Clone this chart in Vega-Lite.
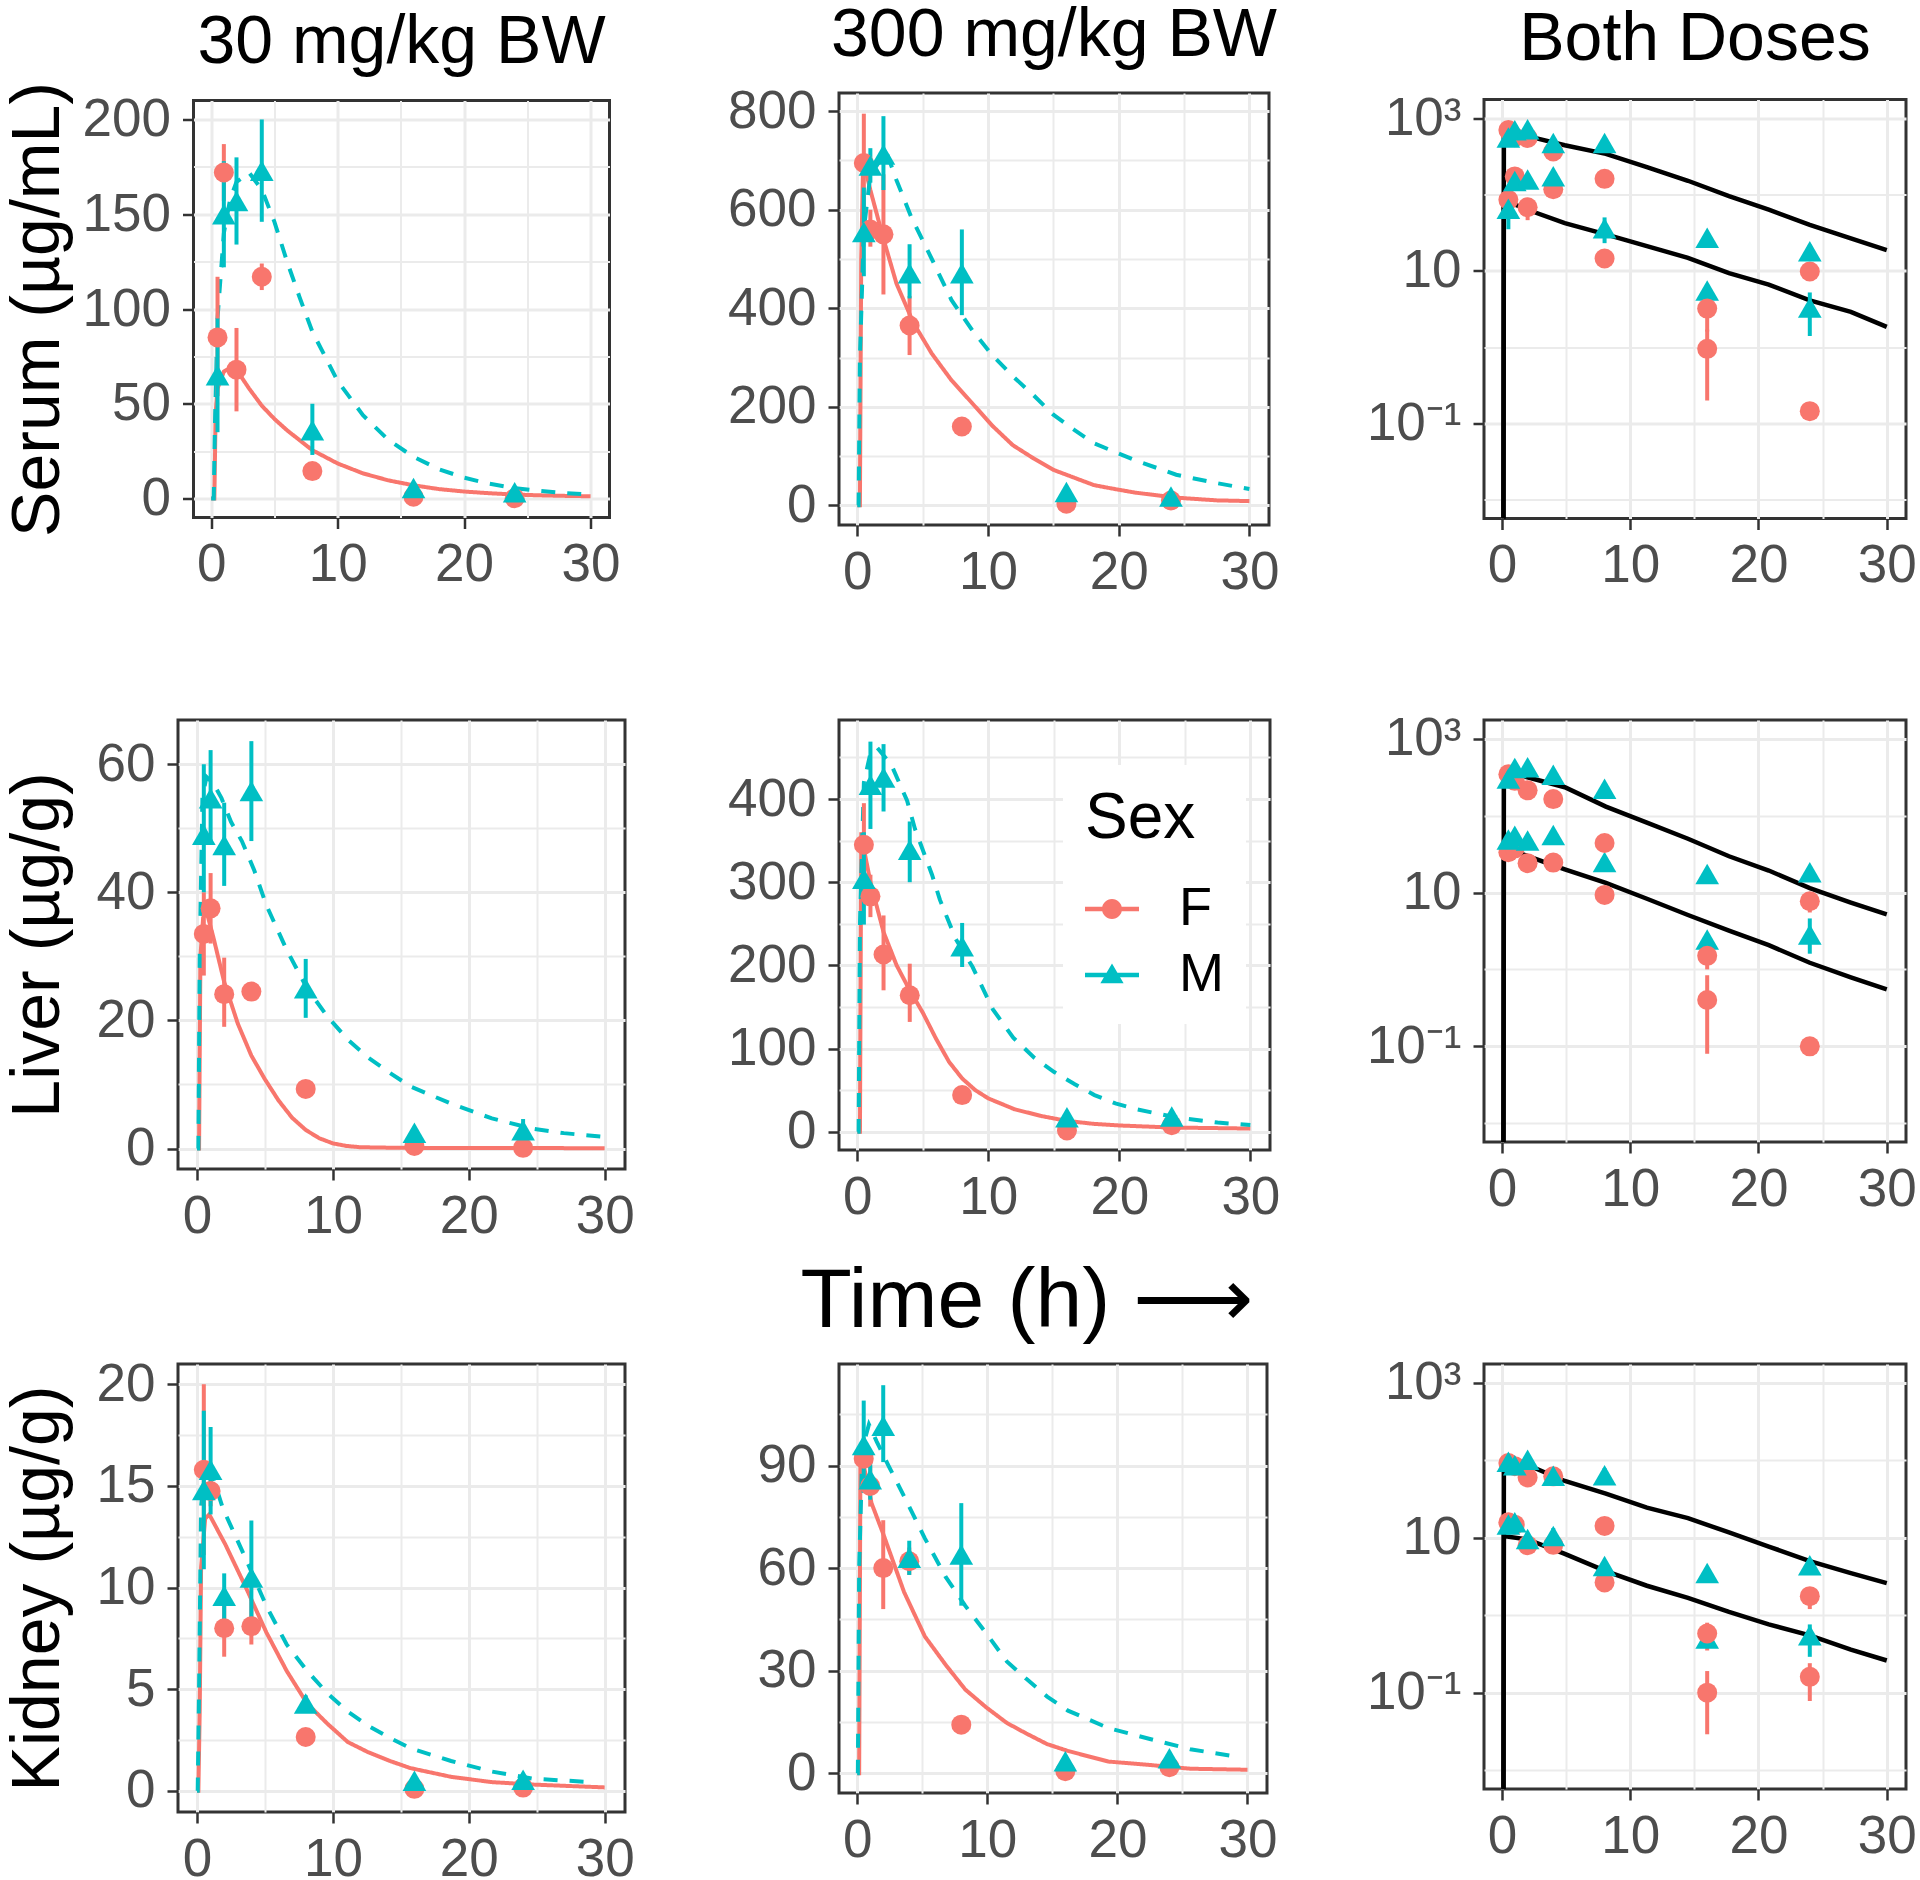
{
"$schema": "https://vega.github.io/schema/vega-lite/v6.json",
"background": "white",
"padding": {"left": 2, "top": 0, "right": 0, "bottom": 0},
"config": {
  "font": "Liberation Sans",
  "view": {"stroke": "#333333", "strokeWidth": 3, "fill": "white"},
  "axis": {"domain": false, "grid": true, "gridColor": "#EBEBEB", "tickColor": "#333333", "tickWidth": 2.5, "tickSize": 11, "labelFont": "Liberation Sans", "labelFontSize": 53, "labelColor": "#4D4D4D", "labelFlush": false, "labelOverlap": false, "titleFont": "Liberation Sans", "titleFontSize": 68, "titleFontWeight": "normal", "titleColor": "black", "titlePadding": 10},
  "axisX": {"labelPadding": 10},
  "axisY": {"labelPadding": 12},
  "title": {"font": "Liberation Sans", "fontSize": 68, "fontWeight": "normal", "color": "black", "anchor": "middle", "frame": "group", "baseline": "alphabetic", "offset": 15}
},
"datasets": {
  "pts": [
    {"organ":"Serum","dose":30,"sex":"F","time":0.5,"conc":85,"lo":54,"hi":117},
    {"organ":"Serum","dose":30,"sex":"F","time":1,"conc":172,"lo":157,"hi":187},
    {"organ":"Serum","dose":30,"sex":"F","time":2,"conc":68,"lo":46,"hi":90},
    {"organ":"Serum","dose":30,"sex":"F","time":4,"conc":117,"lo":110,"hi":124},
    {"organ":"Serum","dose":30,"sex":"F","time":8,"conc":14.5,"lo":13,"hi":16},
    {"organ":"Serum","dose":30,"sex":"F","time":16,"conc":0.95,"lo":0.2,"hi":1.7},
    {"organ":"Serum","dose":30,"sex":"F","time":24,"conc":0.145,"lo":0.145,"hi":0.145},
    {"organ":"Serum","dose":30,"sex":"M","time":0.5,"conc":65,"lo":35,"hi":95},
    {"organ":"Serum","dose":30,"sex":"M","time":1,"conc":150,"lo":122,"hi":178},
    {"organ":"Serum","dose":30,"sex":"M","time":2,"conc":157,"lo":134,"hi":180},
    {"organ":"Serum","dose":30,"sex":"M","time":4,"conc":173,"lo":146,"hi":200},
    {"organ":"Serum","dose":30,"sex":"M","time":8,"conc":36,"lo":23,"hi":50},
    {"organ":"Serum","dose":30,"sex":"M","time":16,"conc":5.5,"lo":4.5,"hi":6.5},
    {"organ":"Serum","dose":30,"sex":"M","time":24,"conc":3.3,"lo":1.4,"hi":5.2},
    {"organ":"Serum","dose":300,"sex":"F","time":0.5,"conc":695,"lo":595,"hi":795},
    {"organ":"Serum","dose":300,"sex":"F","time":1,"conc":560,"lo":525,"hi":600},
    {"organ":"Serum","dose":300,"sex":"F","time":2,"conc":550,"lo":428,"hi":672},
    {"organ":"Serum","dose":300,"sex":"F","time":4,"conc":365,"lo":305,"hi":425},
    {"organ":"Serum","dose":300,"sex":"F","time":8,"conc":160,"lo":152,"hi":168},
    {"organ":"Serum","dose":300,"sex":"F","time":16,"conc":3.2,"lo":1.6,"hi":4.8},
    {"organ":"Serum","dose":300,"sex":"F","time":24,"conc":9.8,"lo":8,"hi":11.6},
    {"organ":"Serum","dose":300,"sex":"M","time":0.5,"conc":555,"lo":465,"hi":645},
    {"organ":"Serum","dose":300,"sex":"M","time":1,"conc":690,"lo":655,"hi":725},
    {"organ":"Serum","dose":300,"sex":"M","time":2,"conc":712,"lo":640,"hi":790},
    {"organ":"Serum","dose":300,"sex":"M","time":4,"conc":471,"lo":420,"hi":530},
    {"organ":"Serum","dose":300,"sex":"M","time":8,"conc":471,"lo":386,"hi":560},
    {"organ":"Serum","dose":300,"sex":"M","time":16,"conc":27,"lo":22,"hi":32},
    {"organ":"Serum","dose":300,"sex":"M","time":24,"conc":18,"lo":14,"hi":22},
    {"organ":"Liver","dose":30,"sex":"F","time":0.5,"conc":33.5,"lo":27,"hi":40},
    {"organ":"Liver","dose":30,"sex":"F","time":1,"conc":37.5,"lo":32,"hi":43},
    {"organ":"Liver","dose":30,"sex":"F","time":2,"conc":24.1,"lo":19,"hi":29.8},
    {"organ":"Liver","dose":30,"sex":"F","time":4,"conc":24.5,"lo":23.5,"hi":25.5},
    {"organ":"Liver","dose":30,"sex":"F","time":8,"conc":9.3,"lo":8,"hi":10.6},
    {"organ":"Liver","dose":30,"sex":"F","time":16,"conc":0.4,"lo":0.08,"hi":0.84},
    {"organ":"Liver","dose":30,"sex":"F","time":24,"conc":0.1,"lo":0.1,"hi":0.1},
    {"organ":"Liver","dose":30,"sex":"M","time":0.5,"conc":49,"lo":40,"hi":60},
    {"organ":"Liver","dose":30,"sex":"M","time":1,"conc":54.7,"lo":47.4,"hi":62.2},
    {"organ":"Liver","dose":30,"sex":"M","time":2,"conc":47.4,"lo":41,"hi":54},
    {"organ":"Liver","dose":30,"sex":"M","time":4,"conc":55.8,"lo":48,"hi":63.6},
    {"organ":"Liver","dose":30,"sex":"M","time":8,"conc":25,"lo":20.4,"hi":29.6},
    {"organ":"Liver","dose":30,"sex":"M","time":16,"conc":2.45,"lo":2.2,"hi":2.7},
    {"organ":"Liver","dose":30,"sex":"M","time":24,"conc":2.85,"lo":1.6,"hi":4.6},
    {"organ":"Liver","dose":300,"sex":"F","time":0.5,"conc":345,"lo":295,"hi":395},
    {"organ":"Liver","dose":300,"sex":"F","time":1,"conc":283,"lo":258,"hi":309},
    {"organ":"Liver","dose":300,"sex":"F","time":2,"conc":213,"lo":170,"hi":260},
    {"organ":"Liver","dose":300,"sex":"F","time":4,"conc":164,"lo":132,"hi":202},
    {"organ":"Liver","dose":300,"sex":"F","time":8,"conc":44,"lo":40,"hi":48},
    {"organ":"Liver","dose":300,"sex":"F","time":16,"conc":1.5,"lo":1,"hi":2.2},
    {"organ":"Liver","dose":300,"sex":"F","time":24,"conc":7.7,"lo":5.5,"hi":9.9},
    {"organ":"Liver","dose":300,"sex":"M","time":0.5,"conc":304,"lo":249,"hi":360},
    {"organ":"Liver","dose":300,"sex":"M","time":1,"conc":417,"lo":364,"hi":469},
    {"organ":"Liver","dose":300,"sex":"M","time":2,"conc":426,"lo":385,"hi":466},
    {"organ":"Liver","dose":300,"sex":"M","time":4,"conc":339,"lo":300,"hi":373},
    {"organ":"Liver","dose":300,"sex":"M","time":8,"conc":223,"lo":198,"hi":251},
    {"organ":"Liver","dose":300,"sex":"M","time":16,"conc":17.4,"lo":15,"hi":20},
    {"organ":"Liver","dose":300,"sex":"M","time":24,"conc":18.3,"lo":15,"hi":21},
    {"organ":"Kidney","dose":30,"sex":"F","time":0.5,"conc":15.8,"lo":11.6,"hi":20},
    {"organ":"Kidney","dose":30,"sex":"F","time":1,"conc":14.75,"lo":14,"hi":15.5},
    {"organ":"Kidney","dose":30,"sex":"F","time":2,"conc":8,"lo":6.6,"hi":9.3},
    {"organ":"Kidney","dose":30,"sex":"F","time":4,"conc":8.1,"lo":7.2,"hi":9.4},
    {"organ":"Kidney","dose":30,"sex":"F","time":8,"conc":2.65,"lo":2.4,"hi":2.9},
    {"organ":"Kidney","dose":30,"sex":"F","time":16,"conc":0.1,"lo":0.029,"hi":0.19},
    {"organ":"Kidney","dose":30,"sex":"F","time":24,"conc":0.16,"lo":0.078,"hi":0.24},
    {"organ":"Kidney","dose":30,"sex":"M","time":0.5,"conc":14.8,"lo":10.9,"hi":18.7},
    {"organ":"Kidney","dose":30,"sex":"M","time":1,"conc":15.8,"lo":13.6,"hi":17.9},
    {"organ":"Kidney","dose":30,"sex":"M","time":2,"conc":9.6,"lo":8.1,"hi":10.7},
    {"organ":"Kidney","dose":30,"sex":"M","time":4,"conc":10.5,"lo":8.1,"hi":13.3},
    {"organ":"Kidney","dose":30,"sex":"M","time":8,"conc":4.3,"lo":3.9,"hi":4.7},
    {"organ":"Kidney","dose":30,"sex":"M","time":16,"conc":0.5,"lo":0.42,"hi":0.58},
    {"organ":"Kidney","dose":30,"sex":"M","time":24,"conc":0.55,"lo":0.29,"hi":0.76},
    {"organ":"Kidney","dose":300,"sex":"F","time":0.5,"conc":92,"lo":88,"hi":96},
    {"organ":"Kidney","dose":300,"sex":"F","time":1,"conc":84,"lo":78,"hi":90},
    {"organ":"Kidney","dose":300,"sex":"F","time":2,"conc":60,"lo":48,"hi":74},
    {"organ":"Kidney","dose":300,"sex":"F","time":4,"conc":62,"lo":58,"hi":66},
    {"organ":"Kidney","dose":300,"sex":"F","time":8,"conc":14.2,"lo":13,"hi":15.4},
    {"organ":"Kidney","dose":300,"sex":"F","time":16,"conc":0.58,"lo":0.35,"hi":0.8},
    {"organ":"Kidney","dose":300,"sex":"F","time":24,"conc":1.76,"lo":1.2,"hi":2.3},
    {"organ":"Kidney","dose":300,"sex":"M","time":0.5,"conc":96,"lo":82,"hi":109},
    {"organ":"Kidney","dose":300,"sex":"M","time":1,"conc":86,"lo":80,"hi":92},
    {"organ":"Kidney","dose":300,"sex":"M","time":2,"conc":101.6,"lo":91,"hi":113.5},
    {"organ":"Kidney","dose":300,"sex":"M","time":4,"conc":63,"lo":58,"hi":68},
    {"organ":"Kidney","dose":300,"sex":"M","time":8,"conc":64,"lo":49,"hi":79},
    {"organ":"Kidney","dose":300,"sex":"M","time":16,"conc":3.5,"lo":3,"hi":4},
    {"organ":"Kidney","dose":300,"sex":"M","time":24,"conc":4.4,"lo":3.5,"hi":5.3}
  ],
  "fit": [
    {"organ":"Serum","dose":30,"sex":"F","time":0,"conc":0},{"organ":"Serum","dose":30,"sex":"F","time":0.25,"conc":0},{"organ":"Serum","dose":30,"sex":"F","time":0.35,"conc":45},{"organ":"Serum","dose":30,"sex":"F","time":0.5,"conc":58},{"organ":"Serum","dose":30,"sex":"F","time":1,"conc":67},{"organ":"Serum","dose":30,"sex":"F","time":1.5,"conc":69},{"organ":"Serum","dose":30,"sex":"F","time":2,"conc":68},{"organ":"Serum","dose":30,"sex":"F","time":3,"conc":58},{"organ":"Serum","dose":30,"sex":"F","time":4,"conc":49},{"organ":"Serum","dose":30,"sex":"F","time":5,"conc":42},{"organ":"Serum","dose":30,"sex":"F","time":6,"conc":36},{"organ":"Serum","dose":30,"sex":"F","time":8,"conc":25.5},{"organ":"Serum","dose":30,"sex":"F","time":10,"conc":18.5},{"organ":"Serum","dose":30,"sex":"F","time":12,"conc":13.3},{"organ":"Serum","dose":30,"sex":"F","time":14,"conc":9.6},{"organ":"Serum","dose":30,"sex":"F","time":16,"conc":7},{"organ":"Serum","dose":30,"sex":"F","time":18,"conc":5},{"organ":"Serum","dose":30,"sex":"F","time":20,"conc":3.7},{"organ":"Serum","dose":30,"sex":"F","time":22,"conc":2.8},{"organ":"Serum","dose":30,"sex":"F","time":24,"conc":2.1},{"organ":"Serum","dose":30,"sex":"F","time":26,"conc":1.7},{"organ":"Serum","dose":30,"sex":"F","time":28,"conc":1.4},{"organ":"Serum","dose":30,"sex":"F","time":30,"conc":1.2},
    {"organ":"Serum","dose":30,"sex":"M","time":0,"conc":0},{"organ":"Serum","dose":30,"sex":"M","time":0.2,"conc":0},{"organ":"Serum","dose":30,"sex":"M","time":0.3,"conc":40},{"organ":"Serum","dose":30,"sex":"M","time":0.5,"conc":95},{"organ":"Serum","dose":30,"sex":"M","time":1,"conc":140},{"organ":"Serum","dose":30,"sex":"M","time":1.5,"conc":158},{"organ":"Serum","dose":30,"sex":"M","time":2,"conc":167},{"organ":"Serum","dose":30,"sex":"M","time":3,"conc":172},{"organ":"Serum","dose":30,"sex":"M","time":4,"conc":163},{"organ":"Serum","dose":30,"sex":"M","time":5,"conc":146},{"organ":"Serum","dose":30,"sex":"M","time":6,"conc":125},{"organ":"Serum","dose":30,"sex":"M","time":7,"conc":106},{"organ":"Serum","dose":30,"sex":"M","time":8,"conc":88},{"organ":"Serum","dose":30,"sex":"M","time":10,"conc":62},{"organ":"Serum","dose":30,"sex":"M","time":12,"conc":44},{"organ":"Serum","dose":30,"sex":"M","time":14,"conc":31},{"organ":"Serum","dose":30,"sex":"M","time":16,"conc":22},{"organ":"Serum","dose":30,"sex":"M","time":18,"conc":15.5},{"organ":"Serum","dose":30,"sex":"M","time":20,"conc":11},{"organ":"Serum","dose":30,"sex":"M","time":22,"conc":7.8},{"organ":"Serum","dose":30,"sex":"M","time":24,"conc":5.5},{"organ":"Serum","dose":30,"sex":"M","time":26,"conc":4},{"organ":"Serum","dose":30,"sex":"M","time":28,"conc":2.9},{"organ":"Serum","dose":30,"sex":"M","time":30,"conc":2.1},
    {"organ":"Serum","dose":300,"sex":"F","time":0,"conc":0},{"organ":"Serum","dose":300,"sex":"F","time":0.2,"conc":0},{"organ":"Serum","dose":300,"sex":"F","time":0.3,"conc":500},{"organ":"Serum","dose":300,"sex":"F","time":0.45,"conc":700},{"organ":"Serum","dose":300,"sex":"F","time":1,"conc":640},{"organ":"Serum","dose":300,"sex":"F","time":2,"conc":541},{"organ":"Serum","dose":300,"sex":"F","time":3,"conc":450},{"organ":"Serum","dose":300,"sex":"F","time":4.3,"conc":370},{"organ":"Serum","dose":300,"sex":"F","time":5.7,"conc":308},{"organ":"Serum","dose":300,"sex":"F","time":7.2,"conc":254},{"organ":"Serum","dose":300,"sex":"F","time":8.8,"conc":207},{"organ":"Serum","dose":300,"sex":"F","time":10.35,"conc":161},{"organ":"Serum","dose":300,"sex":"F","time":11.9,"conc":122},{"organ":"Serum","dose":300,"sex":"F","time":13.5,"conc":95},{"organ":"Serum","dose":300,"sex":"F","time":15,"conc":72},{"organ":"Serum","dose":300,"sex":"F","time":16.6,"conc":56},{"organ":"Serum","dose":300,"sex":"F","time":18.1,"conc":41},{"organ":"Serum","dose":300,"sex":"F","time":19.7,"conc":33},{"organ":"Serum","dose":300,"sex":"F","time":21.3,"conc":25.6},{"organ":"Serum","dose":300,"sex":"F","time":24.4,"conc":15.5},{"organ":"Serum","dose":300,"sex":"F","time":27.5,"conc":10},{"organ":"Serum","dose":300,"sex":"F","time":30,"conc":8.5},
    {"organ":"Serum","dose":300,"sex":"M","time":0,"conc":0},{"organ":"Serum","dose":300,"sex":"M","time":0.1,"conc":0},{"organ":"Serum","dose":300,"sex":"M","time":0.2,"conc":300},{"organ":"Serum","dose":300,"sex":"M","time":0.5,"conc":560},{"organ":"Serum","dose":300,"sex":"M","time":1,"conc":670},{"organ":"Serum","dose":300,"sex":"M","time":2.2,"conc":719},{"organ":"Serum","dose":300,"sex":"M","time":3,"conc":660},{"organ":"Serum","dose":300,"sex":"M","time":4.1,"conc":587},{"organ":"Serum","dose":300,"sex":"M","time":5.7,"conc":500},{"organ":"Serum","dose":300,"sex":"M","time":7.2,"conc":417},{"organ":"Serum","dose":300,"sex":"M","time":8.8,"conc":355},{"organ":"Serum","dose":300,"sex":"M","time":10.35,"conc":304},{"organ":"Serum","dose":300,"sex":"M","time":11.9,"conc":262},{"organ":"Serum","dose":300,"sex":"M","time":13.5,"conc":223},{"organ":"Serum","dose":300,"sex":"M","time":15,"conc":184},{"organ":"Serum","dose":300,"sex":"M","time":16.6,"conc":153},{"organ":"Serum","dose":300,"sex":"M","time":18.1,"conc":126},{"organ":"Serum","dose":300,"sex":"M","time":21.3,"conc":91},{"organ":"Serum","dose":300,"sex":"M","time":24.4,"conc":62},{"organ":"Serum","dose":300,"sex":"M","time":27.5,"conc":45},{"organ":"Serum","dose":300,"sex":"M","time":30,"conc":33},
    {"organ":"Liver","dose":30,"sex":"F","time":0,"conc":0},{"organ":"Liver","dose":30,"sex":"F","time":0.15,"conc":0},{"organ":"Liver","dose":30,"sex":"F","time":0.25,"conc":30},{"organ":"Liver","dose":30,"sex":"F","time":0.45,"conc":36},{"organ":"Liver","dose":30,"sex":"F","time":0.7,"conc":37},{"organ":"Liver","dose":30,"sex":"F","time":1.2,"conc":33},{"organ":"Liver","dose":30,"sex":"F","time":2,"conc":26},{"organ":"Liver","dose":30,"sex":"F","time":3,"conc":19.5},{"organ":"Liver","dose":30,"sex":"F","time":4,"conc":14.5},{"organ":"Liver","dose":30,"sex":"F","time":5,"conc":10.8},{"organ":"Liver","dose":30,"sex":"F","time":6,"conc":7.5},{"organ":"Liver","dose":30,"sex":"F","time":7,"conc":4.8},{"organ":"Liver","dose":30,"sex":"F","time":8,"conc":2.9},{"organ":"Liver","dose":30,"sex":"F","time":9,"conc":1.6},{"organ":"Liver","dose":30,"sex":"F","time":10,"conc":0.8},{"organ":"Liver","dose":30,"sex":"F","time":11,"conc":0.4},{"organ":"Liver","dose":30,"sex":"F","time":12,"conc":0.2},{"organ":"Liver","dose":30,"sex":"F","time":15,"conc":0.1},{"organ":"Liver","dose":30,"sex":"F","time":20,"conc":0.08},{"organ":"Liver","dose":30,"sex":"F","time":30,"conc":0.05},
    {"organ":"Liver","dose":30,"sex":"M","time":0,"conc":0},{"organ":"Liver","dose":30,"sex":"M","time":0.1,"conc":0},{"organ":"Liver","dose":30,"sex":"M","time":0.2,"conc":30},{"organ":"Liver","dose":30,"sex":"M","time":0.4,"conc":55},{"organ":"Liver","dose":30,"sex":"M","time":0.7,"conc":58},{"organ":"Liver","dose":30,"sex":"M","time":1.2,"conc":57},{"organ":"Liver","dose":30,"sex":"M","time":1.8,"conc":54.7},{"organ":"Liver","dose":30,"sex":"M","time":2.5,"conc":51},{"organ":"Liver","dose":30,"sex":"M","time":3.3,"conc":48},{"organ":"Liver","dose":30,"sex":"M","time":4.2,"conc":43.5},{"organ":"Liver","dose":30,"sex":"M","time":5.1,"conc":38},{"organ":"Liver","dose":30,"sex":"M","time":6.6,"conc":31},{"organ":"Liver","dose":30,"sex":"M","time":8.1,"conc":25},{"organ":"Liver","dose":30,"sex":"M","time":9.6,"conc":20.6},{"organ":"Liver","dose":30,"sex":"M","time":11.1,"conc":17},{"organ":"Liver","dose":30,"sex":"M","time":12.6,"conc":14.2},{"organ":"Liver","dose":30,"sex":"M","time":14.2,"conc":11.8},{"organ":"Liver","dose":30,"sex":"M","time":15.7,"conc":9.7},{"organ":"Liver","dose":30,"sex":"M","time":18.7,"conc":7},{"organ":"Liver","dose":30,"sex":"M","time":21.7,"conc":4.7},{"organ":"Liver","dose":30,"sex":"M","time":24.7,"conc":3.1},{"organ":"Liver","dose":30,"sex":"M","time":27,"conc":2.4},{"organ":"Liver","dose":30,"sex":"M","time":30,"conc":1.8},
    {"organ":"Liver","dose":300,"sex":"F","time":0,"conc":0},{"organ":"Liver","dose":300,"sex":"F","time":0.2,"conc":0},{"organ":"Liver","dose":300,"sex":"F","time":0.3,"conc":360},{"organ":"Liver","dose":300,"sex":"F","time":0.5,"conc":340},{"organ":"Liver","dose":300,"sex":"F","time":1,"conc":300},{"organ":"Liver","dose":300,"sex":"F","time":2,"conc":240},{"organ":"Liver","dose":300,"sex":"F","time":3,"conc":200},{"organ":"Liver","dose":300,"sex":"F","time":4,"conc":170},{"organ":"Liver","dose":300,"sex":"F","time":5,"conc":143},{"organ":"Liver","dose":300,"sex":"F","time":6,"conc":112},{"organ":"Liver","dose":300,"sex":"F","time":7,"conc":84},{"organ":"Liver","dose":300,"sex":"F","time":8,"conc":64},{"organ":"Liver","dose":300,"sex":"F","time":9,"conc":50},{"organ":"Liver","dose":300,"sex":"F","time":10,"conc":40},{"organ":"Liver","dose":300,"sex":"F","time":12,"conc":27},{"organ":"Liver","dose":300,"sex":"F","time":14,"conc":19},{"organ":"Liver","dose":300,"sex":"F","time":16,"conc":13},{"organ":"Liver","dose":300,"sex":"F","time":18,"conc":9.5},{"organ":"Liver","dose":300,"sex":"F","time":20,"conc":7.5},{"organ":"Liver","dose":300,"sex":"F","time":24,"conc":5},{"organ":"Liver","dose":300,"sex":"F","time":30,"conc":3.8},
    {"organ":"Liver","dose":300,"sex":"M","time":0,"conc":0},{"organ":"Liver","dose":300,"sex":"M","time":0.1,"conc":0},{"organ":"Liver","dose":300,"sex":"M","time":0.2,"conc":250},{"organ":"Liver","dose":300,"sex":"M","time":0.5,"conc":420},{"organ":"Liver","dose":300,"sex":"M","time":1,"conc":455},{"organ":"Liver","dose":300,"sex":"M","time":1.5,"conc":462},{"organ":"Liver","dose":300,"sex":"M","time":2.6,"conc":441},{"organ":"Liver","dose":300,"sex":"M","time":3.8,"conc":398},{"organ":"Liver","dose":300,"sex":"M","time":4.4,"conc":364},{"organ":"Liver","dose":300,"sex":"M","time":5.7,"conc":309},{"organ":"Liver","dose":300,"sex":"M","time":6.3,"conc":279},{"organ":"Liver","dose":300,"sex":"M","time":7.5,"conc":232},{"organ":"Liver","dose":300,"sex":"M","time":8.8,"conc":198},{"organ":"Liver","dose":300,"sex":"M","time":10.35,"conc":147},{"organ":"Liver","dose":300,"sex":"M","time":11.9,"conc":113},{"organ":"Liver","dose":300,"sex":"M","time":13.5,"conc":89},{"organ":"Liver","dose":300,"sex":"M","time":15,"conc":72},{"organ":"Liver","dose":300,"sex":"M","time":16.6,"conc":57},{"organ":"Liver","dose":300,"sex":"M","time":18.1,"conc":44},{"organ":"Liver","dose":300,"sex":"M","time":19.7,"conc":34},{"organ":"Liver","dose":300,"sex":"M","time":21.3,"conc":27},{"organ":"Liver","dose":300,"sex":"M","time":24.4,"conc":17},{"organ":"Liver","dose":300,"sex":"M","time":27.5,"conc":11},{"organ":"Liver","dose":300,"sex":"M","time":30,"conc":8},
    {"organ":"Kidney","dose":30,"sex":"F","time":0,"conc":0},{"organ":"Kidney","dose":30,"sex":"F","time":0.1,"conc":0},{"organ":"Kidney","dose":30,"sex":"F","time":0.2,"conc":4},{"organ":"Kidney","dose":30,"sex":"F","time":0.3,"conc":11},{"organ":"Kidney","dose":30,"sex":"F","time":0.6,"conc":13.4},{"organ":"Kidney","dose":30,"sex":"F","time":0.9,"conc":13.6},{"organ":"Kidney","dose":30,"sex":"F","time":2.1,"conc":12.1},{"organ":"Kidney","dose":30,"sex":"F","time":3.6,"conc":10},{"organ":"Kidney","dose":30,"sex":"F","time":5.1,"conc":7.8},{"organ":"Kidney","dose":30,"sex":"F","time":6.6,"conc":5.9},{"organ":"Kidney","dose":30,"sex":"F","time":8.1,"conc":4.3},{"organ":"Kidney","dose":30,"sex":"F","time":9.6,"conc":3.3},{"organ":"Kidney","dose":30,"sex":"F","time":11.1,"conc":2.4},{"organ":"Kidney","dose":30,"sex":"F","time":12.6,"conc":1.9},{"organ":"Kidney","dose":30,"sex":"F","time":14.2,"conc":1.47},{"organ":"Kidney","dose":30,"sex":"F","time":15.7,"conc":1.12},{"organ":"Kidney","dose":30,"sex":"F","time":18.7,"conc":0.69},{"organ":"Kidney","dose":30,"sex":"F","time":21.7,"conc":0.43},{"organ":"Kidney","dose":30,"sex":"F","time":24.7,"conc":0.31},{"organ":"Kidney","dose":30,"sex":"F","time":30,"conc":0.17},
    {"organ":"Kidney","dose":30,"sex":"M","time":0,"conc":0},{"organ":"Kidney","dose":30,"sex":"M","time":0.05,"conc":0},{"organ":"Kidney","dose":30,"sex":"M","time":0.15,"conc":5},{"organ":"Kidney","dose":30,"sex":"M","time":0.3,"conc":14},{"organ":"Kidney","dose":30,"sex":"M","time":0.6,"conc":16.2},{"organ":"Kidney","dose":30,"sex":"M","time":0.9,"conc":16},{"organ":"Kidney","dose":30,"sex":"M","time":1.9,"conc":13.9},{"organ":"Kidney","dose":30,"sex":"M","time":3.6,"conc":11.4},{"organ":"Kidney","dose":30,"sex":"M","time":5.1,"conc":9.1},{"organ":"Kidney","dose":30,"sex":"M","time":6.6,"conc":7.2},{"organ":"Kidney","dose":30,"sex":"M","time":8.1,"conc":5.9},{"organ":"Kidney","dose":30,"sex":"M","time":9.6,"conc":4.8},{"organ":"Kidney","dose":30,"sex":"M","time":11.1,"conc":3.9},{"organ":"Kidney","dose":30,"sex":"M","time":12.6,"conc":3.2},{"organ":"Kidney","dose":30,"sex":"M","time":14.2,"conc":2.6},{"organ":"Kidney","dose":30,"sex":"M","time":15.7,"conc":2.1},{"organ":"Kidney","dose":30,"sex":"M","time":18.7,"conc":1.47},{"organ":"Kidney","dose":30,"sex":"M","time":21.7,"conc":0.95},{"organ":"Kidney","dose":30,"sex":"M","time":24.7,"conc":0.6},{"organ":"Kidney","dose":30,"sex":"M","time":29,"conc":0.43},
    {"organ":"Kidney","dose":300,"sex":"F","time":0,"conc":0},{"organ":"Kidney","dose":300,"sex":"F","time":0.15,"conc":0},{"organ":"Kidney","dose":300,"sex":"F","time":0.25,"conc":93},{"organ":"Kidney","dose":300,"sex":"F","time":0.5,"conc":90},{"organ":"Kidney","dose":300,"sex":"F","time":1.1,"conc":79},{"organ":"Kidney","dose":300,"sex":"F","time":2,"conc":70},{"organ":"Kidney","dose":300,"sex":"F","time":3.6,"conc":53},{"organ":"Kidney","dose":300,"sex":"F","time":5.2,"conc":40},{"organ":"Kidney","dose":300,"sex":"F","time":6.8,"conc":31.7},{"organ":"Kidney","dose":300,"sex":"F","time":8.3,"conc":24.5},{"organ":"Kidney","dose":300,"sex":"F","time":9.9,"conc":19.3},{"organ":"Kidney","dose":300,"sex":"F","time":11.5,"conc":14.7},{"organ":"Kidney","dose":300,"sex":"F","time":13,"conc":11.6},{"organ":"Kidney","dose":300,"sex":"F","time":14.6,"conc":8.5},{"organ":"Kidney","dose":300,"sex":"F","time":16.2,"conc":6.5},{"organ":"Kidney","dose":300,"sex":"F","time":19.3,"conc":3.4},{"organ":"Kidney","dose":300,"sex":"F","time":22.5,"conc":2.4},{"organ":"Kidney","dose":300,"sex":"F","time":25.6,"conc":1.3},{"organ":"Kidney","dose":300,"sex":"F","time":30,"conc":1},
    {"organ":"Kidney","dose":300,"sex":"M","time":0,"conc":0},{"organ":"Kidney","dose":300,"sex":"M","time":0.05,"conc":0},{"organ":"Kidney","dose":300,"sex":"M","time":0.15,"conc":60},{"organ":"Kidney","dose":300,"sex":"M","time":0.4,"conc":95},{"organ":"Kidney","dose":300,"sex":"M","time":0.9,"conc":102},{"organ":"Kidney","dose":300,"sex":"M","time":1.5,"conc":97},{"organ":"Kidney","dose":300,"sex":"M","time":2.4,"conc":90},{"organ":"Kidney","dose":300,"sex":"M","time":3.6,"conc":81},{"organ":"Kidney","dose":300,"sex":"M","time":5.2,"conc":68.7},{"organ":"Kidney","dose":300,"sex":"M","time":6.8,"conc":57.4},{"organ":"Kidney","dose":300,"sex":"M","time":8.3,"conc":49},{"organ":"Kidney","dose":300,"sex":"M","time":9.9,"conc":41},{"organ":"Kidney","dose":300,"sex":"M","time":11.5,"conc":32.7},{"organ":"Kidney","dose":300,"sex":"M","time":13,"conc":27.6},{"organ":"Kidney","dose":300,"sex":"M","time":14.6,"conc":22.4},{"organ":"Kidney","dose":300,"sex":"M","time":16.2,"conc":18.3},{"organ":"Kidney","dose":300,"sex":"M","time":19.3,"conc":13.2},{"organ":"Kidney","dose":300,"sex":"M","time":22.5,"conc":10},{"organ":"Kidney","dose":300,"sex":"M","time":25.6,"conc":7},{"organ":"Kidney","dose":300,"sex":"M","time":29.4,"conc":4.7}
  ],
  "fitlog": [
    {"organ":"Serum","dose":300,"time":0.1,"conc":0.0001},{"organ":"Serum","dose":300,"time":0.15,"conc":640},{"organ":"Serum","dose":300,"time":2,"conc":580},{"organ":"Serum","dose":300,"time":4.9,"conc":440},{"organ":"Serum","dose":300,"time":8.1,"conc":340},{"organ":"Serum","dose":300,"time":11.3,"conc":228},{"organ":"Serum","dose":300,"time":14.5,"conc":151},{"organ":"Serum","dose":300,"time":17.7,"conc":95},{"organ":"Serum","dose":300,"time":20.8,"conc":63},{"organ":"Serum","dose":300,"time":24,"conc":40},{"organ":"Serum","dose":300,"time":27.2,"conc":26.5},{"organ":"Serum","dose":300,"time":30,"conc":18.7},
    {"organ":"Serum","dose":30,"time":0.1,"conc":0.00001},{"organ":"Serum","dose":30,"time":0.15,"conc":85},{"organ":"Serum","dose":30,"time":2,"conc":63},{"organ":"Serum","dose":30,"time":4.9,"conc":42},{"organ":"Serum","dose":30,"time":8.1,"conc":30},{"organ":"Serum","dose":30,"time":11.3,"conc":21},{"organ":"Serum","dose":30,"time":14.5,"conc":14.8},{"organ":"Serum","dose":30,"time":17.7,"conc":9.3},{"organ":"Serum","dose":30,"time":20.8,"conc":6.6},{"organ":"Serum","dose":30,"time":24,"conc":4.1},{"organ":"Serum","dose":30,"time":27.2,"conc":2.9},{"organ":"Serum","dose":30,"time":30,"conc":1.84},
    {"organ":"Liver","dose":300,"time":0.1,"conc":0.0001},{"organ":"Liver","dose":300,"time":0.15,"conc":340},{"organ":"Liver","dose":300,"time":1.7,"conc":324},{"organ":"Liver","dose":300,"time":4.9,"conc":234},{"organ":"Liver","dose":300,"time":8.1,"conc":131},{"organ":"Liver","dose":300,"time":11.3,"conc":81},{"organ":"Liver","dose":300,"time":14.5,"conc":50},{"organ":"Liver","dose":300,"time":17.7,"conc":29.6},{"organ":"Liver","dose":300,"time":20.8,"conc":19.3},{"organ":"Liver","dose":300,"time":24,"conc":11.4},{"organ":"Liver","dose":300,"time":27.2,"conc":7.4},{"organ":"Liver","dose":300,"time":30,"conc":5.2},
    {"organ":"Liver","dose":30,"time":0.1,"conc":0.00001},{"organ":"Liver","dose":30,"time":0.15,"conc":37},{"organ":"Liver","dose":30,"time":1.7,"conc":31},{"organ":"Liver","dose":30,"time":4.9,"conc":20},{"organ":"Liver","dose":30,"time":8.1,"conc":13.3},{"organ":"Liver","dose":30,"time":11.3,"conc":8.3},{"organ":"Liver","dose":30,"time":14.5,"conc":5.1},{"organ":"Liver","dose":30,"time":17.7,"conc":3.2},{"organ":"Liver","dose":30,"time":20.8,"conc":2.07},{"organ":"Liver","dose":30,"time":24,"conc":1.22},{"organ":"Liver","dose":30,"time":27.2,"conc":0.79},{"organ":"Liver","dose":30,"time":30,"conc":0.55},
    {"organ":"Kidney","dose":300,"time":0.1,"conc":0.0001},{"organ":"Kidney","dose":300,"time":0.15,"conc":85},{"organ":"Kidney","dose":300,"time":2,"conc":87},{"organ":"Kidney","dose":300,"time":4.9,"conc":54},{"organ":"Kidney","dose":300,"time":8.1,"conc":37},{"organ":"Kidney","dose":300,"time":11.3,"conc":24.5},{"organ":"Kidney","dose":300,"time":14.5,"conc":17.9},{"organ":"Kidney","dose":300,"time":17.7,"conc":11.7},{"organ":"Kidney","dose":300,"time":20.8,"conc":7.7},{"organ":"Kidney","dose":300,"time":24,"conc":5},{"organ":"Kidney","dose":300,"time":27.2,"conc":3.5},{"organ":"Kidney","dose":300,"time":30,"conc":2.6},
    {"organ":"Kidney","dose":30,"time":0.1,"conc":0.00001},{"organ":"Kidney","dose":30,"time":0.15,"conc":10.5},{"organ":"Kidney","dose":30,"time":2,"conc":9.5},{"organ":"Kidney","dose":30,"time":4.9,"conc":6.2},{"organ":"Kidney","dose":30,"time":8.1,"conc":3.7},{"organ":"Kidney","dose":30,"time":11.3,"conc":2.4},{"organ":"Kidney","dose":30,"time":14.5,"conc":1.67},{"organ":"Kidney","dose":30,"time":17.7,"conc":1.1},{"organ":"Kidney","dose":30,"time":20.8,"conc":0.76},{"organ":"Kidney","dose":30,"time":24,"conc":0.55},{"organ":"Kidney","dose":30,"time":27.2,"conc":0.36},{"organ":"Kidney","dose":30,"time":30,"conc":0.26}
  ]
},
"columns": 3,
"spacing": {"row": 195, "column": 214},
"bounds": "flush",
"align": "each",
"center": true,
"resolve": {"scale": {"color": "independent", "shape": "independent", "size": "independent", "strokeDash": "independent"}},
"concat": [
  {
    "width": 416, "height": 417,
    "title": {"text": "30 mg/kg BW", "offset": 5},
    "layer": [
      {"data": {"name": "fit"}, "transform": [{"filter": "datum.organ === 'Serum' && datum.dose === 30"}],
       "mark": {"type": "line", "strokeWidth": 4, "clip": true},
       "encoding": {
         "x": {"field": "time", "type": "quantitative", "scale": {"domain": [-1.4, 31.5], "nice": false, "zero": false}},
         "y": {"field": "conc", "type": "quantitative", "scale": {"domain": [-10, 210], "nice": false, "zero": false}},
         "color": {"field": "sex", "type": "nominal", "scale": {"domain": ["F", "M"], "range": ["#F8766D", "#00BFC4"]}, "legend": null},
         "strokeDash": {"field": "sex", "type": "nominal", "scale": {"domain": ["F", "M"], "range": [[1, 0], [14, 12]]}, "legend": null}}},
      {"data": {"name": "pts"}, "transform": [{"filter": "datum.organ === 'Serum' && datum.dose === 30"}],
       "mark": {"type": "rule", "strokeWidth": 4},
       "encoding": {
         "x": {"field": "time", "type": "quantitative", "scale": {"domain": [-1.4, 31.5], "nice": false, "zero": false}},
         "y": {"field": "lo", "type": "quantitative", "scale": {"domain": [-10, 210], "nice": false, "zero": false}},
         "y2": {"field": "hi"},
         "color": {"field": "sex", "type": "nominal", "scale": {"domain": ["F", "M"], "range": ["#F8766D", "#00BFC4"]}, "legend": null}}},
      {"data": {"name": "pts"}, "transform": [{"filter": "datum.organ === 'Serum' && datum.dose === 30"}],
       "mark": {"type": "point", "filled": true, "opacity": 1},
       "encoding": {
         "x": {"field": "time", "type": "quantitative", "scale": {"domain": [-1.4, 31.5], "nice": false, "zero": false},
               "axis": {"values": [0, 5, 10, 15, 20, 25, 30], "labelExpr": "datum.value % 10 === 0 ? '' + datum.value : ''", "tickOpacity": {"condition": {"test": "datum.value % 10 !== 0", "value": 0}, "value": 1}, "gridWidth": {"condition": {"test": "datum.value % 10 !== 0", "value": 2}, "value": 3}, "title": null}},
         "y": {"field": "conc", "type": "quantitative", "scale": {"domain": [-10, 210], "nice": false, "zero": false},
               "axis": {"values": [0, 25, 50, 75, 100, 125, 150, 175, 200], "labelExpr": "datum.value % 50 === 0 ? '' + datum.value : ''", "tickOpacity": {"condition": {"test": "datum.value % 50 !== 0", "value": 0}, "value": 1}, "gridWidth": {"condition": {"test": "datum.value % 50 !== 0", "value": 2}, "value": 3}, "title": "Serum (µg/mL)", "minExtent": 111, "maxExtent": 111}},
         "color": {"field": "sex", "type": "nominal", "scale": {"domain": ["F", "M"], "range": ["#F8766D", "#00BFC4"]}, "legend": null},
         "shape": {"field": "sex", "type": "nominal", "scale": {"domain": ["F", "M"], "range": ["circle", "triangle-up"]}, "legend": null},
         "size": {"field": "sex", "type": "nominal", "scale": {"domain": ["F", "M"], "range": [400, 560]}, "legend": null}}}
    ]
  },
  {
    "width": 430, "height": 432,
    "title": {"text": "300 mg/kg BW", "offset": 15},
    "layer": [
      {"data": {"name": "fit"}, "transform": [{"filter": "datum.organ === 'Serum' && datum.dose === 300"}],
       "mark": {"type": "line", "strokeWidth": 4, "clip": true},
       "encoding": {
         "x": {"field": "time", "type": "quantitative", "scale": {"domain": [-1.4, 31.5], "nice": false, "zero": false}},
         "y": {"field": "conc", "type": "quantitative", "scale": {"domain": [-40, 837], "nice": false, "zero": false}},
         "color": {"field": "sex", "type": "nominal", "scale": {"domain": ["F", "M"], "range": ["#F8766D", "#00BFC4"]}, "legend": null},
         "strokeDash": {"field": "sex", "type": "nominal", "scale": {"domain": ["F", "M"], "range": [[1, 0], [14, 12]]}, "legend": null}}},
      {"data": {"name": "pts"}, "transform": [{"filter": "datum.organ === 'Serum' && datum.dose === 300"}],
       "mark": {"type": "rule", "strokeWidth": 4},
       "encoding": {
         "x": {"field": "time", "type": "quantitative", "scale": {"domain": [-1.4, 31.5], "nice": false, "zero": false}},
         "y": {"field": "lo", "type": "quantitative", "scale": {"domain": [-40, 837], "nice": false, "zero": false}},
         "y2": {"field": "hi"},
         "color": {"field": "sex", "type": "nominal", "scale": {"domain": ["F", "M"], "range": ["#F8766D", "#00BFC4"]}, "legend": null}}},
      {"data": {"name": "pts"}, "transform": [{"filter": "datum.organ === 'Serum' && datum.dose === 300"}],
       "mark": {"type": "point", "filled": true, "opacity": 1},
       "encoding": {
         "x": {"field": "time", "type": "quantitative", "scale": {"domain": [-1.4, 31.5], "nice": false, "zero": false},
               "axis": {"values": [0, 5, 10, 15, 20, 25, 30], "labelExpr": "datum.value % 10 === 0 ? '' + datum.value : ''", "tickOpacity": {"condition": {"test": "datum.value % 10 !== 0", "value": 0}, "value": 1}, "gridWidth": {"condition": {"test": "datum.value % 10 !== 0", "value": 2}, "value": 3}, "title": null}},
         "y": {"field": "conc", "type": "quantitative", "scale": {"domain": [-40, 837], "nice": false, "zero": false},
               "axis": {"values": [0, 100, 200, 300, 400, 500, 600, 700, 800], "labelExpr": "datum.value % 200 === 0 ? '' + datum.value : ''", "tickOpacity": {"condition": {"test": "datum.value % 200 !== 0", "value": 0}, "value": 1}, "gridWidth": {"condition": {"test": "datum.value % 200 !== 0", "value": 2}, "value": 3}, "title": null}},
         "color": {"field": "sex", "type": "nominal", "scale": {"domain": ["F", "M"], "range": ["#F8766D", "#00BFC4"]}, "legend": null},
         "shape": {"field": "sex", "type": "nominal", "scale": {"domain": ["F", "M"], "range": ["circle", "triangle-up"]}, "legend": null},
         "size": {"field": "sex", "type": "nominal", "scale": {"domain": ["F", "M"], "range": [400, 560]}, "legend": null}}}
    ]
  },
  {
    "width": 422, "height": 419,
    "title": {"text": "Both Doses", "offset": 18},
    "layer": [
      {"data": {"name": "fitlog"}, "transform": [{"filter": "datum.organ === 'Serum'"}],
       "mark": {"type": "line", "strokeWidth": 4.5, "color": "black", "clip": true},
       "encoding": {
         "x": {"field": "time", "type": "quantitative", "scale": {"domain": [-1.4, 31.5], "nice": false, "zero": false}},
         "y": {"field": "conc", "type": "quantitative", "scale": {"type": "log", "domain": [0.0057, 1750], "nice": false}},
         "detail": {"field": "dose", "type": "nominal"}}},
      {"data": {"name": "pts"}, "transform": [{"filter": "datum.organ === 'Serum'"}],
       "mark": {"type": "rule", "strokeWidth": 4},
       "encoding": {
         "x": {"field": "time", "type": "quantitative", "scale": {"domain": [-1.4, 31.5], "nice": false, "zero": false}},
         "y": {"field": "lo", "type": "quantitative", "scale": {"type": "log", "domain": [0.0057, 1750], "nice": false}},
         "y2": {"field": "hi"},
         "color": {"field": "sex", "type": "nominal", "scale": {"domain": ["F", "M"], "range": ["#F8766D", "#00BFC4"]}, "legend": null}}},
      {"data": {"name": "pts"}, "transform": [{"filter": "datum.organ === 'Serum'"}],
       "mark": {"type": "point", "filled": true, "opacity": 1},
       "encoding": {
         "x": {"field": "time", "type": "quantitative", "scale": {"domain": [-1.4, 31.5], "nice": false, "zero": false},
               "axis": {"values": [0, 5, 10, 15, 20, 25, 30], "labelExpr": "datum.value % 10 === 0 ? '' + datum.value : ''", "tickOpacity": {"condition": {"test": "datum.value % 10 !== 0", "value": 0}, "value": 1}, "gridWidth": {"condition": {"test": "datum.value % 10 !== 0", "value": 2}, "value": 3}, "title": null}},
         "y": {"field": "conc", "type": "quantitative", "scale": {"type": "log", "domain": [0.0057, 1750], "nice": false},
               "axis": {"values": [0.01, 0.1, 1, 10, 100, 1000], "labelExpr": "datum.value === 1000 ? '10³' : datum.value === 10 ? '10' : datum.value === 0.1 ? '10⁻¹' : ''", "tickOpacity": {"condition": {"test": "abs(round(log(datum.value)/LN10)) % 2 !== 1", "value": 0}, "value": 1}, "gridWidth": {"condition": {"test": "abs(round(log(datum.value)/LN10)) % 2 !== 1", "value": 2}, "value": 3}, "title": null}},
         "color": {"field": "sex", "type": "nominal", "scale": {"domain": ["F", "M"], "range": ["#F8766D", "#00BFC4"]}, "legend": null},
         "shape": {"field": "sex", "type": "nominal", "scale": {"domain": ["F", "M"], "range": ["circle", "triangle-up"]}, "legend": null},
         "size": {"field": "sex", "type": "nominal", "scale": {"domain": ["F", "M"], "range": [400, 560]}, "legend": null}}}
    ]
  },
  {
    "width": 447, "height": 449,
    "layer": [
      {"data": {"name": "fit"}, "transform": [{"filter": "datum.organ === 'Liver' && datum.dose === 30"}],
       "mark": {"type": "line", "strokeWidth": 4, "clip": true},
       "encoding": {
         "x": {"field": "time", "type": "quantitative", "scale": {"domain": [-1.4, 31.5], "nice": false, "zero": false}},
         "y": {"field": "conc", "type": "quantitative", "scale": {"domain": [-3.2, 66.9], "nice": false, "zero": false}},
         "color": {"field": "sex", "type": "nominal", "scale": {"domain": ["F", "M"], "range": ["#F8766D", "#00BFC4"]}, "legend": null},
         "strokeDash": {"field": "sex", "type": "nominal", "scale": {"domain": ["F", "M"], "range": [[1, 0], [14, 12]]}, "legend": null}}},
      {"data": {"name": "pts"}, "transform": [{"filter": "datum.organ === 'Liver' && datum.dose === 30"}],
       "mark": {"type": "rule", "strokeWidth": 4},
       "encoding": {
         "x": {"field": "time", "type": "quantitative", "scale": {"domain": [-1.4, 31.5], "nice": false, "zero": false}},
         "y": {"field": "lo", "type": "quantitative", "scale": {"domain": [-3.2, 66.9], "nice": false, "zero": false}},
         "y2": {"field": "hi"},
         "color": {"field": "sex", "type": "nominal", "scale": {"domain": ["F", "M"], "range": ["#F8766D", "#00BFC4"]}, "legend": null}}},
      {"data": {"name": "pts"}, "transform": [{"filter": "datum.organ === 'Liver' && datum.dose === 30"}],
       "mark": {"type": "point", "filled": true, "opacity": 1},
       "encoding": {
         "x": {"field": "time", "type": "quantitative", "scale": {"domain": [-1.4, 31.5], "nice": false, "zero": false},
               "axis": {"values": [0, 5, 10, 15, 20, 25, 30], "labelExpr": "datum.value % 10 === 0 ? '' + datum.value : ''", "tickOpacity": {"condition": {"test": "datum.value % 10 !== 0", "value": 0}, "value": 1}, "gridWidth": {"condition": {"test": "datum.value % 10 !== 0", "value": 2}, "value": 3}, "title": null}},
         "y": {"field": "conc", "type": "quantitative", "scale": {"domain": [-3.2, 66.9], "nice": false, "zero": false},
               "axis": {"values": [0, 10, 20, 30, 40, 50, 60], "labelExpr": "datum.value % 20 === 0 ? '' + datum.value : ''", "tickOpacity": {"condition": {"test": "datum.value % 20 !== 0", "value": 0}, "value": 1}, "gridWidth": {"condition": {"test": "datum.value % 20 !== 0", "value": 2}, "value": 3}, "title": "Liver (µg/g)", "minExtent": 96, "maxExtent": 96}},
         "color": {"field": "sex", "type": "nominal", "scale": {"domain": ["F", "M"], "range": ["#F8766D", "#00BFC4"]}, "legend": null},
         "shape": {"field": "sex", "type": "nominal", "scale": {"domain": ["F", "M"], "range": ["circle", "triangle-up"]}, "legend": null},
         "size": {"field": "sex", "type": "nominal", "scale": {"domain": ["F", "M"], "range": [400, 560]}, "legend": null}}}
    ]
  },
  {
    "width": 431, "height": 430,
    "resolve": {"scale": {"color": "independent", "shape": "independent"}},
    "layer": [
      {"data": {"name": "fit"}, "transform": [{"filter": "datum.organ === 'Liver' && datum.dose === 300"}],
       "mark": {"type": "line", "strokeWidth": 4, "clip": true},
       "encoding": {
         "x": {"field": "time", "type": "quantitative", "scale": {"domain": [-1.4, 31.5], "nice": false, "zero": false}},
         "y": {"field": "conc", "type": "quantitative", "scale": {"domain": [-22, 495], "nice": false, "zero": false}},
         "color": {"field": "sex", "type": "nominal", "scale": {"domain": ["F", "M"], "range": ["#F8766D", "#00BFC4"]}, "legend": null},
         "strokeDash": {"field": "sex", "type": "nominal", "scale": {"domain": ["F", "M"], "range": [[1, 0], [14, 12]]}, "legend": null}}},
      {"data": {"name": "pts"}, "transform": [{"filter": "datum.organ === 'Liver' && datum.dose === 300"}],
       "mark": {"type": "rule", "strokeWidth": 4},
       "encoding": {
         "x": {"field": "time", "type": "quantitative", "scale": {"domain": [-1.4, 31.5], "nice": false, "zero": false}},
         "y": {"field": "lo", "type": "quantitative", "scale": {"domain": [-22, 495], "nice": false, "zero": false}},
         "y2": {"field": "hi"},
         "color": {"field": "sex", "type": "nominal", "scale": {"domain": ["F", "M"], "range": ["#F8766D", "#00BFC4"]}, "legend": null}}},
      {"data": {"name": "pts"}, "transform": [{"filter": "datum.organ === 'Liver' && datum.dose === 300"}],
       "mark": {"type": "point", "filled": true, "opacity": 1},
       "encoding": {
         "x": {"field": "time", "type": "quantitative", "scale": {"domain": [-1.4, 31.5], "nice": false, "zero": false},
               "axis": {"values": [0, 5, 10, 15, 20, 25, 30], "labelExpr": "datum.value % 10 === 0 ? '' + datum.value : ''", "tickOpacity": {"condition": {"test": "datum.value % 10 !== 0", "value": 0}, "value": 1}, "gridWidth": {"condition": {"test": "datum.value % 10 !== 0", "value": 2}, "value": 3}, "title": null}},
         "y": {"field": "conc", "type": "quantitative", "scale": {"domain": [-22, 495], "nice": false, "zero": false},
               "axis": {"values": [0, 50, 100, 150, 200, 250, 300, 350, 400, 450], "labelExpr": "datum.value % 100 === 0 ? '' + datum.value : ''", "tickOpacity": {"condition": {"test": "datum.value % 100 !== 0", "value": 0}, "value": 1}, "gridWidth": {"condition": {"test": "datum.value % 100 !== 0", "value": 2}, "value": 3}, "title": null}},
         "color": {"field": "sex", "type": "nominal", "scale": {"domain": ["F", "M"], "range": ["#F8766D", "#00BFC4"]}, "legend": null},
         "shape": {"field": "sex", "type": "nominal", "scale": {"domain": ["F", "M"], "range": ["circle", "triangle-up"]}, "legend": null},
         "size": {"field": "sex", "type": "nominal", "scale": {"domain": ["F", "M"], "range": [400, 560]}, "legend": null}}},
      {"data": {"name": "pts"}, "transform": [{"filter": "datum.time < 0"}],
       "mark": {"type": "point", "filled": true, "opacity": 1},
       "encoding": {
         "color": {"field": "sex", "type": "nominal", "scale": {"domain": ["F", "M"], "range": ["#F8766D", "#00BFC4"]},
                   "legend": {"title": "Sex", "orient": "none", "legendX": 224, "legendY": 45, "fillColor": "white", "padding": 22, "titleFont": "Liberation Sans", "titleFontSize": 64, "titleFontWeight": "normal", "titleColor": "black", "titlePadding": 31, "labelFont": "Liberation Sans", "labelFontSize": 54, "labelColor": "black", "labelOffset": 40, "rowPadding": 12, "symbolSize": 2916, "symbolStrokeWidth": 0, "symbolOpacity": 1}},
         "shape": {"field": "sex", "type": "nominal", "scale": {"domain": ["F", "M"], "range": ["M-1,-0.087L1,-0.087L1,0.087L-1,0.087Z M0.37,0A0.37,0.37,0,1,1,-0.37,0A0.37,0.37,0,1,1,0.37,0Z", "M-1,-0.087L1,-0.087L1,0.087L-1,0.087Z M0,-0.43L0.43,0.31L-0.43,0.31Z"]},
                   "legend": {"title": "Sex", "orient": "none", "legendX": 224, "legendY": 45, "fillColor": "white", "padding": 22, "titleFont": "Liberation Sans", "titleFontSize": 64, "titleFontWeight": "normal", "titleColor": "black", "titlePadding": 31, "labelFont": "Liberation Sans", "labelFontSize": 54, "labelColor": "black", "labelOffset": 40, "rowPadding": 12, "symbolSize": 2916, "symbolStrokeWidth": 0, "symbolOpacity": 1}}}}
    ]
  },
  {
    "width": 422, "height": 422,
    "layer": [
      {"data": {"name": "fitlog"}, "transform": [{"filter": "datum.organ === 'Liver'"}],
       "mark": {"type": "line", "strokeWidth": 4.5, "color": "black", "clip": true},
       "encoding": {
         "x": {"field": "time", "type": "quantitative", "scale": {"domain": [-1.4, 31.5], "nice": false, "zero": false}},
         "y": {"field": "conc", "type": "quantitative", "scale": {"type": "log", "domain": [0.0057, 1750], "nice": false}},
         "detail": {"field": "dose", "type": "nominal"}}},
      {"data": {"name": "pts"}, "transform": [{"filter": "datum.organ === 'Liver'"}],
       "mark": {"type": "rule", "strokeWidth": 4},
       "encoding": {
         "x": {"field": "time", "type": "quantitative", "scale": {"domain": [-1.4, 31.5], "nice": false, "zero": false}},
         "y": {"field": "lo", "type": "quantitative", "scale": {"type": "log", "domain": [0.0057, 1750], "nice": false}},
         "y2": {"field": "hi"},
         "color": {"field": "sex", "type": "nominal", "scale": {"domain": ["F", "M"], "range": ["#F8766D", "#00BFC4"]}, "legend": null}}},
      {"data": {"name": "pts"}, "transform": [{"filter": "datum.organ === 'Liver'"}],
       "mark": {"type": "point", "filled": true, "opacity": 1},
       "encoding": {
         "x": {"field": "time", "type": "quantitative", "scale": {"domain": [-1.4, 31.5], "nice": false, "zero": false},
               "axis": {"values": [0, 5, 10, 15, 20, 25, 30], "labelExpr": "datum.value % 10 === 0 ? '' + datum.value : ''", "tickOpacity": {"condition": {"test": "datum.value % 10 !== 0", "value": 0}, "value": 1}, "gridWidth": {"condition": {"test": "datum.value % 10 !== 0", "value": 2}, "value": 3}, "title": null}},
         "y": {"field": "conc", "type": "quantitative", "scale": {"type": "log", "domain": [0.0057, 1750], "nice": false},
               "axis": {"values": [0.01, 0.1, 1, 10, 100, 1000], "labelExpr": "datum.value === 1000 ? '10³' : datum.value === 10 ? '10' : datum.value === 0.1 ? '10⁻¹' : ''", "tickOpacity": {"condition": {"test": "abs(round(log(datum.value)/LN10)) % 2 !== 1", "value": 0}, "value": 1}, "gridWidth": {"condition": {"test": "abs(round(log(datum.value)/LN10)) % 2 !== 1", "value": 2}, "value": 3}, "title": null}},
         "color": {"field": "sex", "type": "nominal", "scale": {"domain": ["F", "M"], "range": ["#F8766D", "#00BFC4"]}, "legend": null},
         "shape": {"field": "sex", "type": "nominal", "scale": {"domain": ["F", "M"], "range": ["circle", "triangle-up"]}, "legend": null},
         "size": {"field": "sex", "type": "nominal", "scale": {"domain": ["F", "M"], "range": [400, 560]}, "legend": null}}}
    ]
  },
  {
    "width": 447, "height": 448,
    "layer": [
      {"data": {"name": "fit"}, "transform": [{"filter": "datum.organ === 'Kidney' && datum.dose === 30"}],
       "mark": {"type": "line", "strokeWidth": 4, "clip": true},
       "encoding": {
         "x": {"field": "time", "type": "quantitative", "scale": {"domain": [-1.4, 31.5], "nice": false, "zero": false}},
         "y": {"field": "conc", "type": "quantitative", "scale": {"domain": [-1.04, 21], "nice": false, "zero": false}},
         "color": {"field": "sex", "type": "nominal", "scale": {"domain": ["F", "M"], "range": ["#F8766D", "#00BFC4"]}, "legend": null},
         "strokeDash": {"field": "sex", "type": "nominal", "scale": {"domain": ["F", "M"], "range": [[1, 0], [14, 12]]}, "legend": null}}},
      {"data": {"name": "pts"}, "transform": [{"filter": "datum.organ === 'Kidney' && datum.dose === 30"}],
       "mark": {"type": "rule", "strokeWidth": 4},
       "encoding": {
         "x": {"field": "time", "type": "quantitative", "scale": {"domain": [-1.4, 31.5], "nice": false, "zero": false}},
         "y": {"field": "lo", "type": "quantitative", "scale": {"domain": [-1.04, 21], "nice": false, "zero": false}},
         "y2": {"field": "hi"},
         "color": {"field": "sex", "type": "nominal", "scale": {"domain": ["F", "M"], "range": ["#F8766D", "#00BFC4"]}, "legend": null}}},
      {"data": {"name": "pts"}, "transform": [{"filter": "datum.organ === 'Kidney' && datum.dose === 30"}],
       "mark": {"type": "point", "filled": true, "opacity": 1},
       "encoding": {
         "x": {"field": "time", "type": "quantitative", "scale": {"domain": [-1.4, 31.5], "nice": false, "zero": false},
               "axis": {"values": [0, 5, 10, 15, 20, 25, 30], "labelExpr": "datum.value % 10 === 0 ? '' + datum.value : ''", "tickOpacity": {"condition": {"test": "datum.value % 10 !== 0", "value": 0}, "value": 1}, "gridWidth": {"condition": {"test": "datum.value % 10 !== 0", "value": 2}, "value": 3}, "title": null}},
         "y": {"field": "conc", "type": "quantitative", "scale": {"domain": [-1.04, 21], "nice": false, "zero": false},
               "axis": {"values": [0, 2.5, 5, 7.5, 10, 12.5, 15, 17.5, 20], "labelExpr": "datum.value % 5 === 0 ? '' + datum.value : ''", "tickOpacity": {"condition": {"test": "datum.value % 5 !== 0", "value": 0}, "value": 1}, "gridWidth": {"condition": {"test": "datum.value % 5 !== 0", "value": 2}, "value": 3}, "title": "Kidney (µg/g)", "minExtent": 96, "maxExtent": 96}},
         "color": {"field": "sex", "type": "nominal", "scale": {"domain": ["F", "M"], "range": ["#F8766D", "#00BFC4"]}, "legend": null},
         "shape": {"field": "sex", "type": "nominal", "scale": {"domain": ["F", "M"], "range": ["circle", "triangle-up"]}, "legend": null},
         "size": {"field": "sex", "type": "nominal", "scale": {"domain": ["F", "M"], "range": [400, 560]}, "legend": null}}}
    ]
  },
  {
    "width": 428, "height": 429,
    "title": {"text": "Time (h) ⟶", "fontSize": 84, "offset": 19, "dx": -26},
    "layer": [
      {"data": {"name": "fit"}, "transform": [{"filter": "datum.organ === 'Kidney' && datum.dose === 300"}],
       "mark": {"type": "line", "strokeWidth": 4, "clip": true},
       "encoding": {
         "x": {"field": "time", "type": "quantitative", "scale": {"domain": [-1.4, 31.5], "nice": false, "zero": false}},
         "y": {"field": "conc", "type": "quantitative", "scale": {"domain": [-5.8, 119.7], "nice": false, "zero": false}},
         "color": {"field": "sex", "type": "nominal", "scale": {"domain": ["F", "M"], "range": ["#F8766D", "#00BFC4"]}, "legend": null},
         "strokeDash": {"field": "sex", "type": "nominal", "scale": {"domain": ["F", "M"], "range": [[1, 0], [14, 12]]}, "legend": null}}},
      {"data": {"name": "pts"}, "transform": [{"filter": "datum.organ === 'Kidney' && datum.dose === 300"}],
       "mark": {"type": "rule", "strokeWidth": 4},
       "encoding": {
         "x": {"field": "time", "type": "quantitative", "scale": {"domain": [-1.4, 31.5], "nice": false, "zero": false}},
         "y": {"field": "lo", "type": "quantitative", "scale": {"domain": [-5.8, 119.7], "nice": false, "zero": false}},
         "y2": {"field": "hi"},
         "color": {"field": "sex", "type": "nominal", "scale": {"domain": ["F", "M"], "range": ["#F8766D", "#00BFC4"]}, "legend": null}}},
      {"data": {"name": "pts"}, "transform": [{"filter": "datum.organ === 'Kidney' && datum.dose === 300"}],
       "mark": {"type": "point", "filled": true, "opacity": 1},
       "encoding": {
         "x": {"field": "time", "type": "quantitative", "scale": {"domain": [-1.4, 31.5], "nice": false, "zero": false},
               "axis": {"values": [0, 5, 10, 15, 20, 25, 30], "labelExpr": "datum.value % 10 === 0 ? '' + datum.value : ''", "tickOpacity": {"condition": {"test": "datum.value % 10 !== 0", "value": 0}, "value": 1}, "gridWidth": {"condition": {"test": "datum.value % 10 !== 0", "value": 2}, "value": 3}, "title": null}},
         "y": {"field": "conc", "type": "quantitative", "scale": {"domain": [-5.8, 119.7], "nice": false, "zero": false},
               "axis": {"values": [0, 15, 30, 45, 60, 75, 90, 105], "labelExpr": "datum.value % 30 === 0 ? '' + datum.value : ''", "tickOpacity": {"condition": {"test": "datum.value % 30 !== 0", "value": 0}, "value": 1}, "gridWidth": {"condition": {"test": "datum.value % 30 !== 0", "value": 2}, "value": 3}, "title": null}},
         "color": {"field": "sex", "type": "nominal", "scale": {"domain": ["F", "M"], "range": ["#F8766D", "#00BFC4"]}, "legend": null},
         "shape": {"field": "sex", "type": "nominal", "scale": {"domain": ["F", "M"], "range": ["circle", "triangle-up"]}, "legend": null},
         "size": {"field": "sex", "type": "nominal", "scale": {"domain": ["F", "M"], "range": [400, 560]}, "legend": null}}}
    ]
  },
  {
    "width": 422, "height": 425,
    "layer": [
      {"data": {"name": "fitlog"}, "transform": [{"filter": "datum.organ === 'Kidney'"}],
       "mark": {"type": "line", "strokeWidth": 4.5, "color": "black", "clip": true},
       "encoding": {
         "x": {"field": "time", "type": "quantitative", "scale": {"domain": [-1.4, 31.5], "nice": false, "zero": false}},
         "y": {"field": "conc", "type": "quantitative", "scale": {"type": "log", "domain": [0.0057, 1750], "nice": false}},
         "detail": {"field": "dose", "type": "nominal"}}},
      {"data": {"name": "pts"}, "transform": [{"filter": "datum.organ === 'Kidney'"}],
       "mark": {"type": "rule", "strokeWidth": 4},
       "encoding": {
         "x": {"field": "time", "type": "quantitative", "scale": {"domain": [-1.4, 31.5], "nice": false, "zero": false}},
         "y": {"field": "lo", "type": "quantitative", "scale": {"type": "log", "domain": [0.0057, 1750], "nice": false}},
         "y2": {"field": "hi"},
         "color": {"field": "sex", "type": "nominal", "scale": {"domain": ["F", "M"], "range": ["#F8766D", "#00BFC4"]}, "legend": null}}},
      {"data": {"name": "pts"}, "transform": [{"filter": "datum.organ === 'Kidney'"}],
       "mark": {"type": "point", "filled": true, "opacity": 1},
       "encoding": {
         "x": {"field": "time", "type": "quantitative", "scale": {"domain": [-1.4, 31.5], "nice": false, "zero": false},
               "axis": {"values": [0, 5, 10, 15, 20, 25, 30], "labelExpr": "datum.value % 10 === 0 ? '' + datum.value : ''", "tickOpacity": {"condition": {"test": "datum.value % 10 !== 0", "value": 0}, "value": 1}, "gridWidth": {"condition": {"test": "datum.value % 10 !== 0", "value": 2}, "value": 3}, "title": null}},
         "y": {"field": "conc", "type": "quantitative", "scale": {"type": "log", "domain": [0.0057, 1750], "nice": false},
               "axis": {"values": [0.01, 0.1, 1, 10, 100, 1000], "labelExpr": "datum.value === 1000 ? '10³' : datum.value === 10 ? '10' : datum.value === 0.1 ? '10⁻¹' : ''", "tickOpacity": {"condition": {"test": "abs(round(log(datum.value)/LN10)) % 2 !== 1", "value": 0}, "value": 1}, "gridWidth": {"condition": {"test": "abs(round(log(datum.value)/LN10)) % 2 !== 1", "value": 2}, "value": 3}, "title": null}},
         "color": {"field": "sex", "type": "nominal", "scale": {"domain": ["F", "M"], "range": ["#F8766D", "#00BFC4"]}, "legend": null},
         "shape": {"field": "sex", "type": "nominal", "scale": {"domain": ["F", "M"], "range": ["circle", "triangle-up"]}, "legend": null},
         "size": {"field": "sex", "type": "nominal", "scale": {"domain": ["F", "M"], "range": [400, 560]}, "legend": null}}}
    ]
  }
]
}
